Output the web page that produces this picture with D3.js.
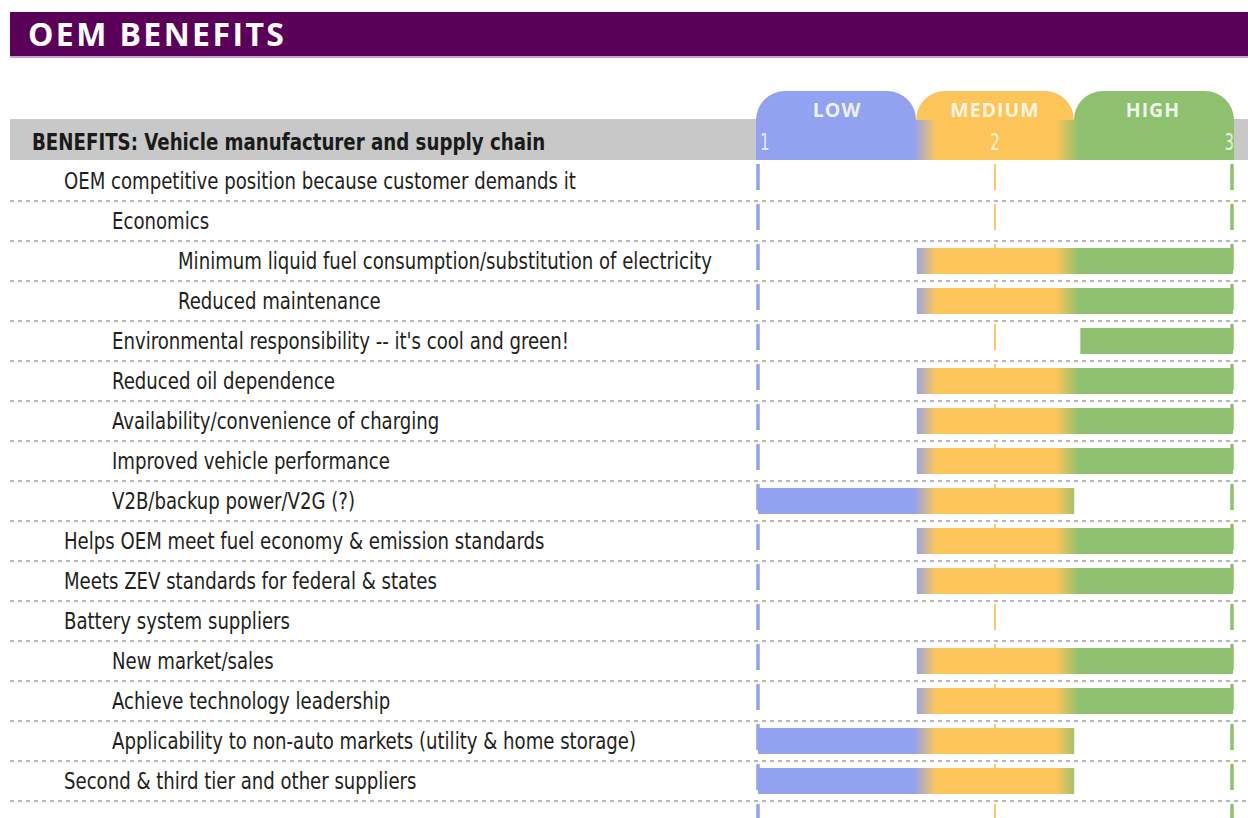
<!DOCTYPE html>
<html>
<head>
<meta charset="utf-8">
<script src="https://cdn.jsdelivr.net/npm/d3@7"></script>
<style>
  body { margin: 0; background: #fff; }
  svg text { font-family: "DejaVu Sans Condensed", "DejaVu Sans", sans-serif; }
</style>
</head>
<body>
<div id="chart"></div>
<script>
// chart content
const title = "OEM BENEFITS";
const sectionLabel = "BENEFITS: Vehicle manufacturer and supply chain";
const levelNames = ["LOW", "MEDIUM", "HIGH"];
const levelBreaks = [1, 1.667, 2.333, 3];
const scaleTicks = [1, 2, 3];

const rowLabels = [
  "OEM competitive position because customer demands it",
  "Economics",
  "Minimum liquid fuel consumption/substitution of electricity",
  "Reduced maintenance",
  "Environmental responsibility -- it's cool and green!",
  "Reduced oil dependence",
  "Availability/convenience of charging",
  "Improved vehicle performance",
  "V2B/backup power/V2G (?)",
  "Helps OEM meet fuel economy & emission standards",
  "Meets ZEV standards for federal & states",
  "Battery system suppliers",
  "New market/sales",
  "Achieve technology leadership",
  "Applicability to non-auto markets (utility & home storage)",
  "Second & third tier and other suppliers",
  "" // next row, cut off at the bottom
];
const rowLevel = [0, 1, 2, 2, 1, 1, 1, 1, 1, 0, 0, 0, 1, 1, 1, 0, 0];
const barStart = [null, null, 1.67, 1.67, 2.36, 1.67, 1.67, 1.67, 1, 1.67, 1.67, null, 1.67, 1.67, 1, 1, null];
const barEnd   = [null, null, 3,    3,    3,    3,    3,    3,    2.33, 3,  3,    null, 3,    3,    2.33, 2.33, null];

const colors = { low: "#93a1f1", med: "#fdc559", high: "#8fc06f", band: "#c8c8c8", title: "#5a0058" };

const width = 1248, height = 818;
const svg = d3.select("#chart").append("svg")
  .attr("width", width)
  .attr("height", height);

// scales
const x = d3.scaleLinear().domain([1, 3]).range([758, 1232]);
const y = d3.scaleBand().domain(d3.range(rowLabels.length)).range([161, 161 + 40 * rowLabels.length]);
const indent = d3.scaleOrdinal().domain([0, 1, 2]).range([64, 112, 178]);

// shared horizontal gradient low -> medium -> high
const grad = svg.append("defs").append("linearGradient")
  .attr("id", "lvl")
  .attr("gradientUnits", "userSpaceOnUse")
  .attr("x1", x(1)).attr("x2", x(3)).attr("y1", 0).attr("y2", 0);
[[x(levelBreaks[1]) - 2, colors.low], [x(levelBreaks[1]) + 20, colors.med],
 [x(levelBreaks[2]) - 18, colors.med], [x(levelBreaks[2]) + 5, colors.high]]
  .forEach(([px, c]) => grad.append("stop")
    .attr("offset", (px - x(1)) / (x(3) - x(1)))
    .attr("stop-color", c));

// title bar
svg.append("rect").attr("x", 10).attr("y", 12).attr("width", width - 10).attr("height", 44).attr("fill", colors.title);
svg.append("rect").attr("x", 10).attr("y", 56).attr("width", width - 10).attr("height", 2).attr("fill", "#c9a6c8");
svg.append("text").attr("x", 28).attr("y", 46)
  .style("font-family", "'Open Sans', sans-serif")
  .style("font-weight", 700).style("font-size", "32px").style("letter-spacing", "2.4px")
  .attr("fill", "#fff").text(title);

// grey section band
svg.append("rect").attr("x", 10).attr("y", 119).attr("width", width - 10).attr("height", 41).attr("fill", colors.band);
svg.append("text").attr("transform", "translate(32,150) scale(0.88,1)")
  .style("font-weight", 700).style("font-size", "23px")
  .attr("fill", "#1a1a1a").text(sectionLabel);

// level tabs with rounded tops
const tabTop = 91, tabBottom = 160, r = 29;
const tabColors = [colors.low, colors.med, colors.high];
const tabs = svg.append("g");
levelNames.forEach((name, i) => {
  const x0 = x(levelBreaks[i]) - (i === 0 ? 2 : 0), x1 = x(levelBreaks[i + 1]) + (i === 2 ? 2 : 0);
  const p = d3.path();
  p.moveTo(x0, tabBottom);
  p.lineTo(x0, tabTop + r);
  p.arcTo(x0, tabTop, x0 + r, tabTop, r);
  p.lineTo(x1 - r, tabTop);
  p.arcTo(x1, tabTop, x1, tabTop + r, r);
  p.lineTo(x1, tabBottom);
  p.closePath();
  tabs.append("path").attr("d", p.toString()).attr("fill", tabColors[i]);
  tabs.append("text")
    .attr("x", (x(levelBreaks[i]) + x(levelBreaks[i + 1])) / 2).attr("y", 117)
    .attr("text-anchor", "middle")
    .style("font-family", "'Open Sans', sans-serif")
    .style("font-weight", 700).style("font-size", "19.5px").style("letter-spacing", "1px")
    .attr("fill", "#fff").attr("fill-opacity", 0.85)
    .text(name);
});
tabs.append("rect")
  .attr("x", x(1) - 2).attr("y", 120).attr("width", x(3) - x(1) + 4).attr("height", tabBottom - 120)
  .attr("fill", "url(#lvl)");
tabs.selectAll(".num").data(scaleTicks).join("text")
  .attr("class", "num")
  .attr("transform", (d, i) => `translate(${x(d) + (i === 0 ? 2 : i === 2 ? 2 : 0)},150) scale(0.72,1)`)
  .attr("text-anchor", (d, i) => ["start", "middle", "end"][i])
  .style("font-size", "23px")
  .attr("fill", "#fff").attr("fill-opacity", 0.8)
  .text(d => d);

// rows
const rows = svg.append("g").selectAll("g").data(rowLabels).join("g")
  .attr("transform", (d, i) => `translate(0,${y(i)})`);

rows.append("text")
  .attr("transform", (d, i) => `translate(${indent(rowLevel[i])},28) scale(0.875,1)`)
  .style("font-size", "23px")
  .attr("fill", "#231f20")
  .text(d => d);

rows.filter((d, i) => i < rowLabels.length - 1).append("line")
  .attr("x1", 10).attr("x2", width)
  .attr("y1", 40).attr("y2", 40)
  .attr("stroke", "#a0a0a0").attr("stroke-width", 1.5)
  .attr("stroke-dasharray", "4,4");

// bars
rows.filter((d, i) => barStart[i] != null).append("rect")
  .attr("x", d => x(barStart[rowLabels.indexOf(d)]))
  .attr("y", 7)
  .attr("width", d => x(barEnd[rowLabels.indexOf(d)]) - x(barStart[rowLabels.indexOf(d)]) + 1)
  .attr("height", 26)
  .attr("fill", "url(#lvl)");

// scale markers at 1, 2, 3 on every row
rows.append("line").attr("x1", x(1)).attr("x2", x(1)).attr("y1", 3).attr("y2", 29)
  .attr("stroke", colors.low).attr("stroke-width", 3.5);
rows.append("line").attr("x1", x(2)).attr("x2", x(2)).attr("y1", 3).attr("y2", 29)
  .attr("stroke", colors.med).attr("stroke-width", 1.8);
rows.append("line").attr("x1", x(3)).attr("x2", x(3)).attr("y1", 3).attr("y2", 29)
  .attr("stroke", colors.high).attr("stroke-width", 3.5);
</script>
</body>
</html>
